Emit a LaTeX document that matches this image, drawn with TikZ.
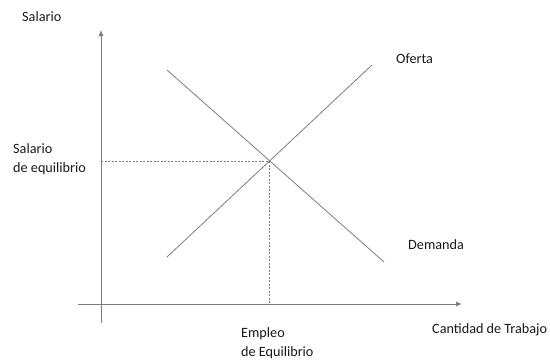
\documentclass[tikz,border=0pt]{standalone}
\usepackage{fontspec}
\setmainfont{Carlito}
\usetikzlibrary{arrows.meta}
\definecolor{linegray}{RGB}{125,125,125}
\definecolor{textgray}{RGB}{25,25,25}
\tikzset{
  axis/.style={draw=linegray,line width=0.9pt,-{Latex[length=6pt,width=5pt]}},
  curve/.style={draw=linegray,line width=0.8pt},
  guide/.style={draw=linegray,line width=0.7pt,dash pattern=on 2pt off 1.5pt},
  lbl/.style={text=textgray,font=\fontsize{14.2}{18.5}\selectfont,inner sep=0pt,anchor=west,align=left}
}
\begin{document}
\begin{tikzpicture}[x=1pt,y=-1pt]
\useasboundingbox (0,0) rectangle (550,360);
\coordinate (eq) at (269,161);
% axes
\draw[axis] (101,323) -- (101,30);
\draw[axis] (78,304) -- (462,304);
% supply and demand
\draw[curve] (167,257) -- (372,65);
\draw[curve] (167,70) -- (384,262);
% equilibrium guides
\draw[guide] (101,161) -- (eq);
\draw[guide] (eq) -- (269,304);
\node[lbl] (salario) at (22,17) {Salario};
\node[lbl] (saleq) at (13,159) {Salario\\de equilibrio};
\node[lbl] (oferta) at (396,59) {Oferta};
\node[lbl] (demanda) at (408,245) {Demanda};
\node[lbl] (empleo) at (241,343) {Empleo\\de Equilibrio};
\node[lbl] (cantidad) at (432,330) {Cantidad de Trabajo};
\end{tikzpicture}
\end{document}
